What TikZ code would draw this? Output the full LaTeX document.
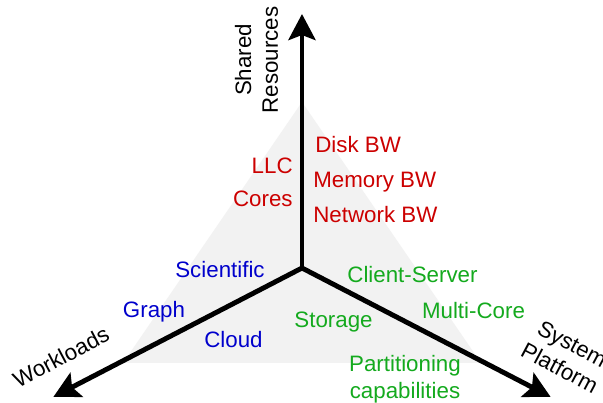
\documentclass[tikz,border=0pt]{standalone}
\usepackage{fontspec}
\setmainfont{Liberation Sans}
\usetikzlibrary{arrows.meta}
\definecolor{resred}{RGB}{204,0,0}
\definecolor{wlblue}{RGB}{0,0,204}
\definecolor{platgreen}{RGB}{20,170,30}
\begin{document}
\begin{tikzpicture}[axis/.style={line width=2.8pt,line cap=round,-{Stealth[length=0.52cm,width=0.54cm,inset=0.1cm]}},
	lbl/.style={inner sep=0pt,font=\fontsize{12.7}{15.2}\selectfont},
	res/.style={lbl,text=resred},
	wl/.style={lbl,text=wlblue},
	plat/.style={lbl,text=platgreen}]
				\useasboundingbox[fill=white] (-6.04,-2.70) rectangle (6.02,5.36);
				\coordinate (O) at (0,0);
				\coordinate (restip) at (90:5.08);
				\coordinate (wltip) at (207.4:5.6);
				\coordinate (plattip) at (332.6:5.6);
				\fill[black!5] (0,3.32) -- (-3.58,-1.90) -- (3.58,-1.90) -- cycle;
				\draw[axis] (O) -- (restip);
				\draw[axis] (O) -- (wltip);
				\draw[axis] (O) -- (plattip);
				\node[lbl,rotate=90,align=center] (resaxis) at (-0.91,4.16) {Shared\\Resources};
				\node[lbl,rotate=28] (wlaxis) at (-4.82,-1.78) {Workloads};
				\node[lbl,rotate=-28,align=center] (plataxis) at (5.28,-1.76) {System\\Platform};
				\node[res,anchor=base west] (disk) at (0.26,2.30) {Disk BW};
				\node[res,anchor=base west] (mem) at (0.22,1.60) {Memory BW};
				\node[res,anchor=base west] (net) at (0.22,0.90) {Network BW};
				\node[res,anchor=base east] (llc) at (-0.18,1.88) {LLC};
				\node[res,anchor=base east] (cores) at (-0.18,1.22) {Cores};
				\node[wl,anchor=base] (sci) at (-1.64,-0.20) {Scientific};
				\node[wl,anchor=base] (graph) at (-2.96,-1.00) {Graph};
				\node[wl,anchor=base] (cloud) at (-1.37,-1.60) {Cloud};
				\node[plat,anchor=base] (cs) at (2.21,-0.30) {Client-Server};
				\node[plat,anchor=base] (mc) at (3.43,-1.02) {Multi-Core};
				\node[plat,anchor=base] (stor) at (0.63,-1.20) {Storage};
				\node[plat,anchor=north,align=center] (part) at (2.06,-1.74) {Partitioning\\capabilities};
\end{tikzpicture}
\end{document}
